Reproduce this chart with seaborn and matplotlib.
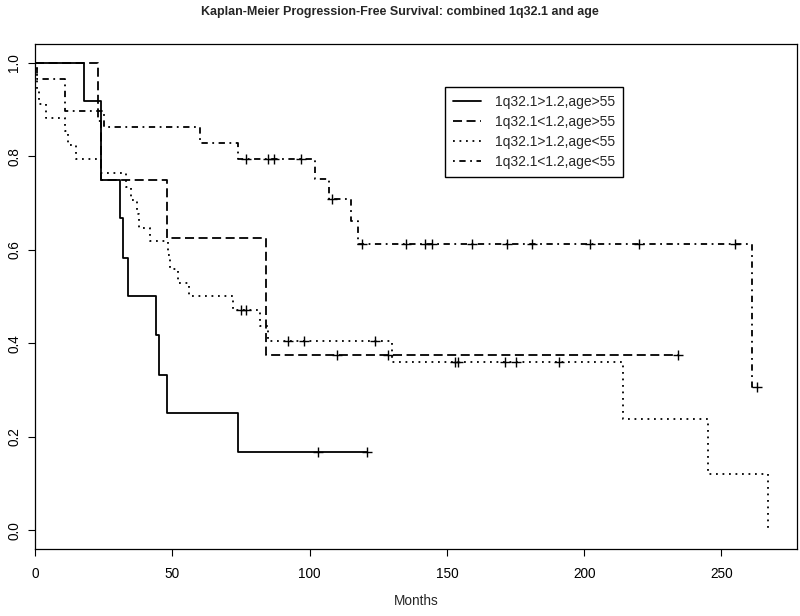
import matplotlib
matplotlib.use('Agg')
import matplotlib.pyplot as plt
import pandas as pd
import seaborn as sns

# Kaplan-Meier step curves:
# time of each drop, survival right after the drop, and censoring times
GROUPS = ['1q32.1>1.2,age>55', '1q32.1<1.2,age>55', '1q32.1>1.2,age<55', '1q32.1<1.2,age<55']

HI_OLD_TIMES = [18, 24, 31, 32, 34, 44, 45, 48, 74]
HI_OLD_SURV = [0.917, 0.75, 0.667, 0.583, 0.5, 0.417, 0.333, 0.25, 0.167]
HI_OLD_CENSOR = [103, 121]

LO_OLD_TIMES = [23, 24, 48, 84]
LO_OLD_SURV = [0.875, 0.75, 0.625, 0.375]
LO_OLD_CENSOR = [110, 128.5, 234]

HI_YOUNG_TIMES = [0.7, 1.5, 4, 11, 12, 15, 24, 33, 35, 37, 38, 42, 48.5, 49, 52, 56,
                  72, 82, 85, 130, 214, 245, 267]
HI_YOUNG_SURV = [0.941, 0.912, 0.882, 0.853, 0.824, 0.794, 0.765, 0.735, 0.706, 0.676,
                 0.647, 0.618, 0.588, 0.559, 0.529, 0.5, 0.471, 0.437, 0.404, 0.359,
                 0.239, 0.120, 0.0]
HI_YOUNG_CENSOR = [75, 77, 92, 98, 124, 153, 154, 171, 175, 191]

LO_YOUNG_TIMES = [0.7, 11, 25, 60, 74, 102, 107, 115, 117.5, 261]
LO_YOUNG_SURV = [0.966, 0.897, 0.862, 0.828, 0.793, 0.751, 0.709, 0.662, 0.613, 0.306]
LO_YOUNG_CENSOR = [77, 85, 87, 97, 108, 119, 135, 142, 144.5, 159, 172, 181, 202, 220, 255, 263]

X_TICKS = [0, 50, 100, 150, 200, 250]
Y_TICKS = [0.0, 0.2, 0.4, 0.6, 0.8, 1.0]

CURVES = {
    GROUPS[0]: (HI_OLD_TIMES, HI_OLD_SURV, HI_OLD_CENSOR),
    GROUPS[1]: (LO_OLD_TIMES, LO_OLD_SURV, LO_OLD_CENSOR),
    GROUPS[2]: (HI_YOUNG_TIMES, HI_YOUNG_SURV, HI_YOUNG_CENSOR),
    GROUPS[3]: (LO_YOUNG_TIMES, LO_YOUNG_SURV, LO_YOUNG_CENSOR),
}
LINESTYLES = {
    GROUPS[0]: '-',
    GROUPS[1]: (0, (5, 2.5)),
    GROUPS[2]: (0, (1, 2.6)),
    GROUPS[3]: (0, (1, 2.5, 3.5, 2.5)),
}


def surv_at(times, surv, t):
    s = 1.0
    for ti, si in zip(times, surv):
        if ti <= t:
            s = si
    return s


def main():
    sns.set_style('ticks')
    plt.rcParams['font.family'] = ['Liberation Sans', 'DejaVu Sans']

    step_rows = []
    censor_rows = []
    for group, (times, surv, censor) in CURVES.items():
        xs = [0] + list(times)
        ys = [1.0] + list(surv)
        end = max(times + censor)
        if end > xs[-1]:
            xs.append(end)
            ys.append(ys[-1])
        step_rows += [{'group': group, 'Months': x, 'Survival': y} for x, y in zip(xs, ys)]
        censor_rows += [{'group': group, 'Months': c, 'Survival': surv_at(times, surv, c)} for c in censor]
    steps = pd.DataFrame(step_rows)
    censored = pd.DataFrame(censor_rows)

    fig = plt.figure(figsize=(8, 6.16), dpi=100)
    ax = fig.add_axes([0.04375, 0.1088, 0.9525, 0.8198])

    for group in GROUPS:
        sns.lineplot(
            data=steps[steps['group'] == group], x='Months', y='Survival',
            drawstyle='steps-post', estimator=None, sort=False,
            color='black', linestyle=LINESTYLES[group], linewidth=1.3,
            label=group, ax=ax,
        )
    sns.scatterplot(data=censored, x='Months', y='Survival', marker='+', color='black',
                    s=45, linewidth=1.0, legend=False, ax=ax)

    ax.set_xlim(0, 277.5)
    ax.set_ylim(-0.04, 1.04)
    ax.set_xticks(X_TICKS)
    ax.set_xticklabels([str(t) for t in X_TICKS])
    ax.set_yticks(Y_TICKS)
    ax.set_yticklabels([f'{t:.1f}' for t in Y_TICKS], rotation=90, va='center')
    ax.tick_params(direction='out', length=5, width=0.8, labelsize=9.8, colors='black')
    ax.tick_params(axis='x', pad=8)
    ax.tick_params(axis='y', pad=5)
    for spine in ax.spines.values():
        spine.set_visible(True)
        spine.set_color('black')
        spine.set_linewidth(0.9)
    ax.set_xlabel('Months', fontsize=9.8, labelpad=9)
    ax.set_ylabel('')

    ax.legend(loc='upper left', bbox_to_anchor=(0.538, 0.915), borderaxespad=0,
              fancybox=False, edgecolor='black', framealpha=1, fontsize=10,
              handlelength=2.0, handletextpad=1.0, labelspacing=0.42, borderpad=0.6)

    fig.suptitle('Kaplan-Meier Progression-Free Survival: combined 1q32.1 and age',
                 x=0.5, y=1 - 12 / 616, va='center', fontsize=9, fontweight='bold')

    fig.savefig('out.png', dpi=100)


if __name__ == '__main__':
    main()
